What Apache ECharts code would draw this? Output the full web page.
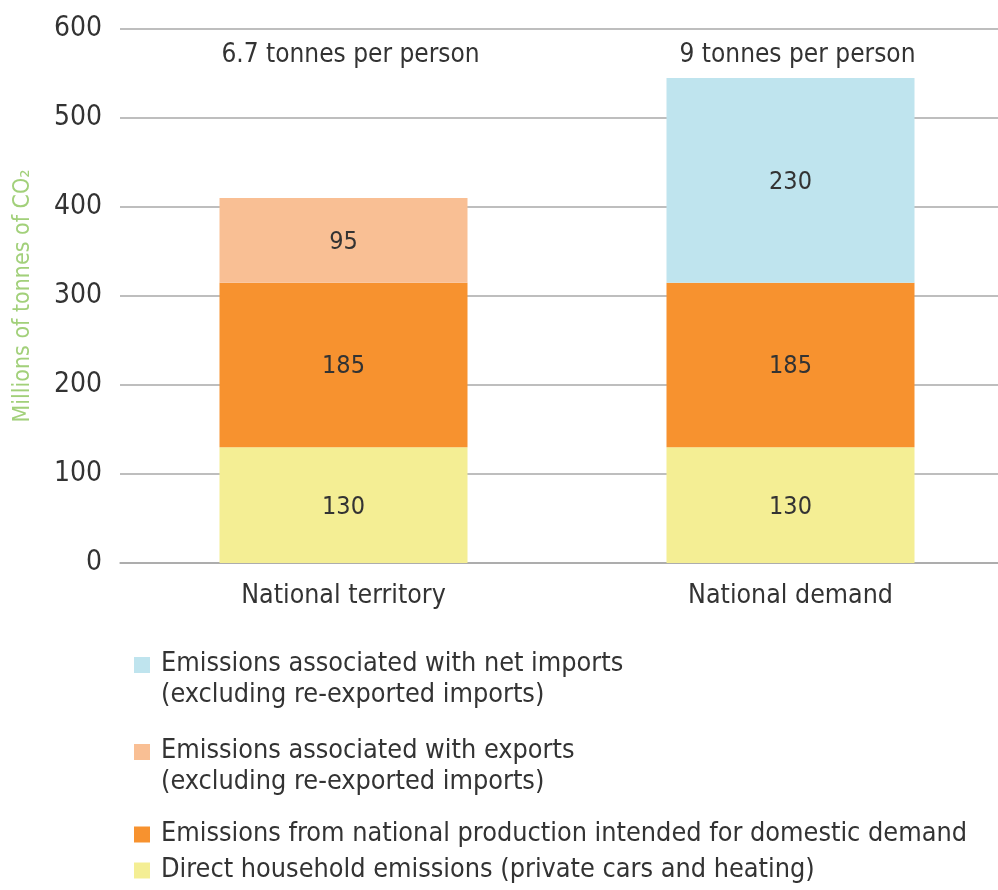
<!DOCTYPE html>
<html><head><meta charset="utf-8">
<script src="https://cdn.jsdelivr.net/npm/echarts@6/dist/echarts.min.js"></script>
<style>html,body{margin:0;padding:0;background:#fff}#c{width:998px;height:890px}</style>
</head><body><div id="c"></div>
<script>
const categories = ['National territory', 'National demand'];
const household = [130, 130];
const production = [185, 185];
const exportsE = [95, null];
const importsE = [null, 230];
const perPerson = ['6.7 tonnes per person', '9 tonnes per person'];
const perPersonY = [571, 571];
const yTicks = [0, 100, 200, 300, 400, 500, 600];

const FONT = "'DejaVu Sans Condensed', 'Liberation Sans Narrow', sans-serif";
const TXT = '#333333';
const names = [
  'Emissions associated with net imports\n(excluding re-exported imports)',
  'Emissions associated with exports\n(excluding re-exported imports)',
  'Emissions from national production intended for domestic demand',
  'Direct household emissions (private cars and heating)'
];
const colors = ['#bfe4ee', '#f9bf94', '#f7922f', '#f4ee94'];
const twoLineIcon = 'path://M0,0H16V16H0Z M0,46H0.01V46.01H0Z';

function legendAt(i, top, twoLine) {
  return {
    data: [{ name: names[i], icon: twoLine ? twoLineIcon : 'rect' }],
    orient: 'vertical', left: 129, top: top,
    itemWidth: 16, itemHeight: twoLine ? 46 : 16, itemGap: 0,
    selectedMode: false,
    textStyle: { fontFamily: FONT, fontSize: 26.8, color: TXT, lineHeight: 31, padding: [0, 0, 0, 6] }
  };
}

const segLabel = { show: true, position: 'inside', fontFamily: FONT, fontSize: 25, color: TXT, offset: [0, 2] };

const chart = echarts.init(document.getElementById('c'), null, { renderer: 'canvas' });
chart.setOption({
  animation: false,
  backgroundColor: '#fff',
  grid: { left: 120, width: 894, top: 29, bottom: 327, containLabel: false, outerBoundsMode: 'none' },
  legend: [legendAt(0, 644, true), legendAt(1, 731, true), legendAt(2, 814, false), legendAt(3, 850, false)],
  xAxis: {
    type: 'category', data: categories,
    axisLine: { show: true, lineStyle: { color: '#a8a8a8', width: 1.5 } },
    axisTick: { show: false },
    axisLabel: { fontFamily: FONT, fontSize: 26.5, color: TXT, margin: 20 }
  },
  yAxis: {
    type: 'value', min: 0, max: 600, interval: 100,
    name: 'Millions of tonnes of CO₂', nameLocation: 'middle', nameGap: 85,
    nameTextStyle: { fontFamily: FONT, fontSize: 23, color: '#a2d07a' },
    axisLine: { show: false }, axisTick: { show: false },
    axisLabel: { fontFamily: FONT, fontSize: 28, color: TXT, margin: 18,
      formatter: v => yTicks.includes(v) ? String(v) : '' },
    splitLine: { lineStyle: { color: '#a8a8a8', width: 1.5 } }
  },
  series: [
    { name: names[3], type: 'bar', stack: 's', data: household, barWidth: 248, itemStyle: { color: colors[3] }, label: segLabel },
    { name: names[2], type: 'bar', stack: 's', data: production, barWidth: 248, itemStyle: { color: colors[2] }, label: segLabel },
    { name: names[1], type: 'bar', stack: 's', data: exportsE, barWidth: 248, itemStyle: { color: colors[1] }, label: segLabel },
    { name: names[0], type: 'bar', stack: 's', data: importsE, barWidth: 248, itemStyle: { color: colors[0] }, label: segLabel },
    { type: 'scatter', symbolSize: 0, silent: true, itemStyle: { opacity: 1 },
      data: perPersonY.map((v, i) => ({ value: v, label: { formatter: perPerson[i], color: TXT } })),
      label: { show: true, position: 'inside', offset: [7, 0], fontFamily: FONT, fontSize: 26, color: TXT } }
  ]
});
</script></body></html>
